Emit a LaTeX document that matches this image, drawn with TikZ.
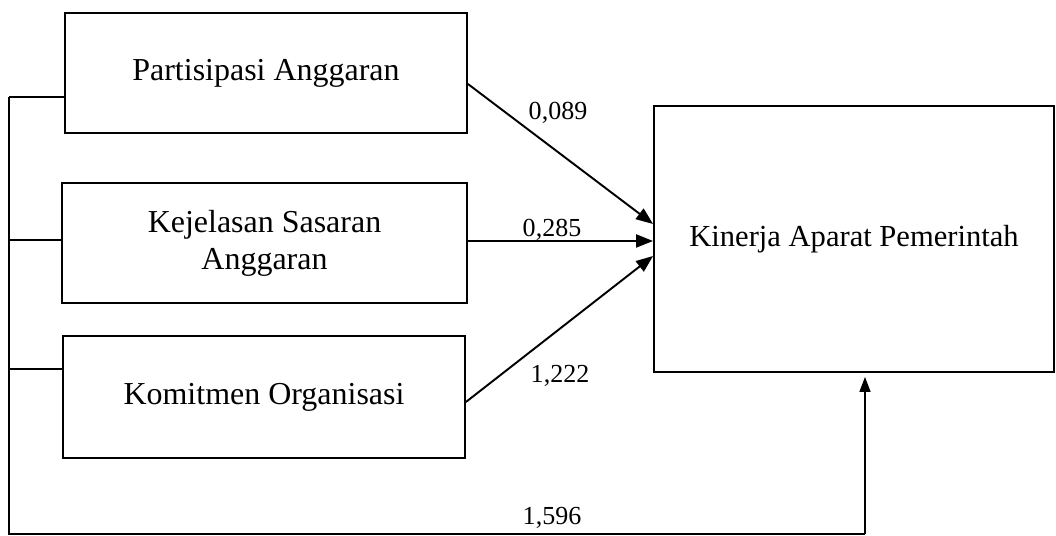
\documentclass[tikz,border=0pt]{standalone}
\usepackage{fontspec}
\setmainfont{Liberation Serif}
\usetikzlibrary{arrows.meta}
\tikzset{
    varbox/.style ={
        shape=rectangle,
        draw=black,
        line width=1.1pt,
        minimum width=8.04cm,
        minimum height=2.4cm,
        align=center,
        font=\fontsize{18.2}{21}\selectfont
    },
    weight/.style ={
        inner sep=0pt,
        font=\fontsize{14.8}{17}\selectfont
    },
    path/.style ={
        line width=1.1pt,
        -{Triangle[length=0.34cm,width=0.26cm]}
    }
}

\begin{document}
\begin{tikzpicture}[x=0.02cm,y=-0.02cm]
        \useasboundingbox (0,0) rectangle (1056,536);
        \node[varbox] (pa) at(266,73) {Partisipasi Anggaran};
        \node[varbox,minimum width=8.1cm] (ksa) at(264.5,243) {Kejelasan Sasaran\\Anggaran};
        \node[varbox,minimum height=2.44cm] (ko) at(264,397) {Komitmen Organisasi};
        \node[varbox,minimum width=8cm,minimum height=5.32cm,font=\fontsize{17.4}{21}\selectfont] (kap) at(854,239) {Kinerja Aparat Pemerintah};
        \node[weight] (w1) at(558,113) {0,089};
        \node[weight] (w2) at(552,230) {0,285};
        \node[weight] (w3) at(560,376) {1,222};
        \node[weight] (w4) at(552,518) {1,596};
        % simultaneous path
        \coordinate (ta) at(9,97);
        \coordinate (tb) at(9,240);
        \coordinate (tc) at(9,369);
        \coordinate (corner) at(9,534);
        \coordinate (up) at(865,534);
        \draw[line width=0.85pt] (ta) -- (ta -| pa.west);
        \draw[line width=0.85pt] (tb) -- (tb -| ksa.west);
        \draw[line width=0.85pt] (tc) -- (tc -| ko.west);
        \draw[line width=0.85pt] (ta) -- (corner) -- (up);
        \draw[line width=0.85pt,-{Triangle[length=0.3cm,width=0.22cm]},shorten >=0.08cm] (up) -- (up |- kap.south);
        % partial paths
        \draw[path] ([yshift=-0.22cm]pa.east) -- ([yshift=0.3cm]kap.west);
        \draw[path] ([yshift=0.04cm]ksa.east) -- ([yshift=-0.04cm]kap.west);
        \draw[path] ([yshift=-0.1cm]ko.east) -- ([yshift=-0.34cm]kap.west);
\end{tikzpicture}
\end{document}
